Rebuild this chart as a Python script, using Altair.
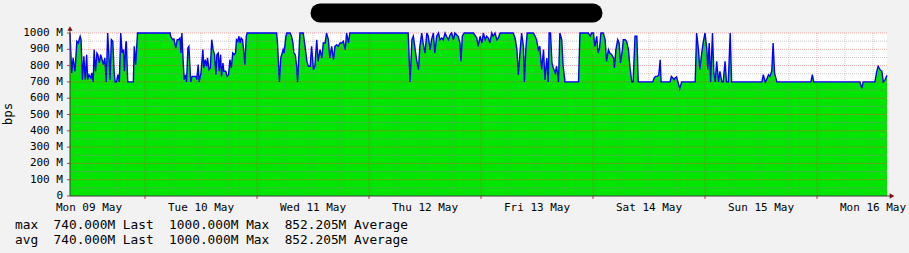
import altair as alt
import pandas as pd

# ---- data (hours since Mon 09 May 00:00, traffic in Mbit/s) ----
hours = [
    -4.07, -3.7, -3.4, -3.0, -2.6, -2.3, -1.9, -1.7, -1.4, -1.1,
    -0.8, -0.5, -0.3, 0.0, 0.4, 0.6, 0.9, 1.1, 1.4, 1.7,
    1.9, 2.2, 2.5, 2.8, 3.1, 3.4, 3.7, 4.0, 4.3, 4.5,
    4.8, 5.1, 5.4, 5.6, 5.9, 6.2, 6.5, 6.8, 7.1, 7.4,
    7.6, 7.9, 8.0, 8.3, 9.5, 9.7, 10.0, 10.4,
    17.4, 17.5, 17.9, 18.2, 18.6, 18.9, 19.2, 19.5, 19.7, 19.9,
    20.2, 20.4, 20.7, 20.9, 21.2, 21.4, 21.8, 22.1, 22.5, 22.9,
    23.1, 23.4, 23.6, 24.0, 24.4, 24.6, 24.9, 25.2, 25.4, 25.7,
    26.0, 26.3, 26.6, 26.9, 27.2, 27.4, 27.7, 27.9, 28.2, 28.4,
    28.7, 28.9, 29.3, 29.6, 29.9, 30.2, 30.5, 30.8, 31.1, 31.4,
    31.6, 31.9, 32.1, 32.4, 32.6, 32.9, 33.2, 33.4, 33.7, 33.9,
    40.2, 40.4, 40.8, 41.1, 41.6, 41.8, 42.2, 42.4, 43.1, 43.4,
    43.7, 43.9, 44.2, 44.5, 44.7, 45.2, 45.9, 46.3, 46.7, 47.0,
    47.4, 47.7, 48.1, 48.4, 48.8, 49.1, 49.5, 49.9, 50.2, 50.6,
    50.9, 51.3, 51.6, 52.0, 52.4, 52.7, 53.1, 53.4, 53.8, 54.2,
    54.5, 54.9, 55.2, 55.6, 55.9, 56.3,
    68.4, 68.8, 69.2, 69.5, 69.9, 70.2, 70.6, 70.9, 71.3, 71.6,
    72.0, 72.4, 72.7, 73.1, 73.4, 73.8, 74.1, 74.5, 74.9, 75.2,
    75.6, 75.9, 76.3, 76.6, 77.0, 77.4, 77.7, 78.1, 78.4, 79.1,
    79.5, 79.7, 80.0, 80.4, 82.4, 83.1, 83.4, 83.8, 84.2, 84.5,
    84.9, 85.2, 85.6, 85.9, 86.3, 86.6, 87.0, 87.4, 87.7, 88.1,
    90.9, 91.3, 91.7, 92.0, 92.4, 92.7, 93.1, 93.3, 93.6, 93.9,
    95.2, 95.6, 95.9, 96.3, 96.6, 97.0, 97.4, 97.7, 98.1, 98.4,
    98.6, 98.9, 99.2, 99.5, 99.9, 100.2, 100.6, 100.9, 101.3, 101.6,
    102.0, 104.9, 105.2, 107.0, 107.4, 107.7,
    108.1, 108.4, 108.8, 109.1, 109.4, 109.7, 110.2, 110.6, 110.9, 111.3,
    111.6, 112.0, 112.4, 112.6, 112.9, 113.3, 113.6, 113.9, 114.3, 114.5,
    114.9, 115.2, 115.6, 115.9, 116.3, 116.6, 117.0, 117.4, 117.7,
    120.8, 121.1, 121.4, 121.8, 122.1, 122.4, 122.6, 124.5, 124.8, 125.1,
    125.4, 125.6, 125.9, 126.2, 126.6, 127.0,
    129.9, 130.2, 130.6, 130.9, 131.3, 131.6, 132.0, 132.4, 132.6, 132.9,
    133.2, 133.6, 133.9, 134.2, 134.5, 134.9, 135.2, 135.6, 135.9, 136.3,
    136.6, 137.0, 137.4, 137.7,
    144.2, 144.5, 144.9, 145.2, 145.6, 145.9, 146.3, 146.6, 146.9, 147.4,
    154.7, 155.0, 155.3, 165.2, 165.6, 165.9, 168.4, 168.8, 169.1, 169.5,
    169.9, 170.2, 170.6, 171.0,
]

bps_m = [
    1000, 755, 847, 765, 949, 939, 980, 959, 714, 857,
    714, 867, 714, 744, 724, 755, 700, 898, 765, 877,
    867, 816, 867, 836, 806, 847, 700, 1000, 847, 714,
    959, 949, 755, 700, 700, 744, 700, 1000, 877, 898,
    765, 939, 949, 700, 700, 918, 806, 1000,
    1000, 980, 959, 963, 908, 959, 959, 969, 877, 1000,
    816, 714, 744, 700, 908, 918, 700, 734, 734, 734,
    714, 806, 700, 755, 898, 785, 836, 796, 847, 775,
    785, 959, 898, 867, 744, 867, 877, 765, 867, 734,
    816, 765, 765, 734, 744, 836, 785, 877, 867, 877,
    959, 949, 980, 939, 969, 959, 877, 806, 980, 1000,
    1000, 939, 700, 847, 898, 877, 980, 1000, 1000, 980,
    939, 877, 867, 796, 700, 1000, 1000, 918, 826, 796,
    796, 918, 775, 796, 959, 826, 898, 847, 939, 939,
    1000, 959, 847, 918, 836, 918, 928, 918, 939, 939,
    949, 898, 1000, 939, 1000, 1000,
    1000, 700, 959, 980, 898, 836, 775, 918, 1000, 939,
    877, 1000, 980, 898, 959, 1000, 877, 980, 1000, 959,
    969, 959, 1000, 980, 959, 990, 1000, 959, 1000, 980,
    939, 826, 980, 1000, 1000, 969, 918, 980, 939, 1000,
    959, 980, 969, 939, 1000, 980, 1000, 959, 969, 1000,
    1000, 969, 898, 744, 898, 1000, 918, 700, 898, 1000,
    1000, 980, 959, 898, 918, 775, 898, 714, 847, 700,
    1000, 1000, 816, 785, 755, 796, 700, 1000, 959, 796,
    700, 700, 1000, 1000, 980, 1000,
    1000, 918, 980, 877, 908, 1000, 1000, 959, 826, 898,
    877, 867, 847, 785, 898, 959, 939, 816, 898, 959,
    959, 949, 898, 796, 700, 700, 980, 980, 700,
    700, 724, 734, 734, 744, 836, 700, 700, 734, 724,
    714, 724, 730, 700, 660, 700,
    700, 1000, 898, 775, 877, 939, 1000, 898, 775, 939,
    700, 1000, 755, 700, 826, 700, 765, 700, 700, 826,
    700, 700, 1000, 700,
    700, 744, 700, 714, 744, 734, 765, 939, 755, 700,
    700, 744, 700, 700, 660, 700, 700, 765, 796, 775,
    765, 700, 714, 740,
]

day_labels = ["Mon 09 May", "Tue 10 May", "Wed 11 May", "Thu 12 May",
              "Fri 13 May", "Sat 14 May", "Sun 15 May", "Mon 16 May"]
label_hours = [0, 24, 48, 72, 96, 120, 144, 168]
noon_hours = [12, 36, 60, 84, 108, 132, 156]
six_hours = [0, 6, 18, 24, 30, 42, 48, 54, 66, 72, 78, 90, 96, 102,
             114, 120, 126, 138, 144, 150, 162, 168]
y_ticks = [0, 100, 200, 300, 400, 500, 600, 700, 800, 900, 1000]
y_tick_labels = ["0", "100 M", "200 M", "300 M", "400 M", "500 M",
                 "600 M", "700 M", "800 M", "900 M", "1000 M"]
y_minor = [50, 150, 250, 350, 450, 550, 650, 750, 850, 950]
y_major = [100, 200, 300, 400, 500, 600, 700, 800, 900, 1000]
y_title = "bps"

legend_names = ["max", "avg"]
legend_last = ["740.000", "740.000"]
legend_max = ["1000.000", "1000.000"]
legend_avg = ["852.205", "852.205"]

# ---- chart ----
W, H = 817, 163
FONT = "DejaVu Sans Mono"
NB = "\u00a0"

df = pd.DataFrame({"hour": hours, "bps": bps_m})
x_scale = alt.Scale(domain=[-4.07, 171.0], nice=False, zero=False)
y_scale = alt.Scale(domain=[0, 1000], nice=False, zero=True)

X = lambda: alt.X("hour:Q", scale=x_scale, axis=None)
Y = lambda: alt.Y("bps:Q", scale=y_scale, axis=None)

area = alt.Chart(df).mark_area(color="#00e600", opacity=1, interpolate="linear").encode(
    x=X(), y=Y())
line = alt.Chart(df).mark_line(color="#0000ff", strokeWidth=1.4, interpolate="linear").encode(
    x=X(), y=Y())

grid_minor_v = alt.Chart(pd.DataFrame({"hour": six_hours})).mark_rule(
    color="#8c8c8c", strokeWidth=1, strokeDash=[1, 1], opacity=0.45).encode(x=X())
grid_major_v = alt.Chart(pd.DataFrame({"hour": noon_hours})).mark_rule(
    color="#e03030", strokeWidth=1, strokeDash=[1, 1], opacity=0.4).encode(x=X())
grid_minor_h = alt.Chart(pd.DataFrame({"bps": y_minor})).mark_rule(
    color="#8c8c8c", strokeWidth=1, strokeDash=[1, 1], opacity=0.45).encode(y=Y())
grid_major_h = alt.Chart(pd.DataFrame({"bps": y_major})).mark_rule(
    color="#e03030", strokeWidth=1, strokeDash=[1, 1], opacity=0.4).encode(y=Y())

TICK_C = "#c04040"
noon_ticks = alt.Chart(pd.DataFrame({"hour": noon_hours})).mark_rule(
    color=TICK_C, strokeWidth=1).encode(x=X(), y=alt.value(H), y2=alt.value(H + 3))
y_tick_marks = alt.Chart(pd.DataFrame({"bps": y_ticks})).mark_rule(
    color=TICK_C, strokeWidth=1).encode(y=Y(), x=alt.value(-3), x2=alt.value(0))

y_labels = alt.Chart(pd.DataFrame({"bps": y_ticks, "lab": y_tick_labels})).mark_text(
    align="right", baseline="middle", font=FONT, fontSize=11, color="#000000").encode(
    y=Y(), x=alt.value(-7), text="lab:N")
x_labels = alt.Chart(pd.DataFrame({"hour": label_hours, "lab": day_labels})).mark_text(
    align="center", baseline="alphabetic", font=FONT, fontSize=11, color="#000000").encode(
    x=X(), y=alt.value(H + 14.7), text="lab:N")

one = pd.DataFrame({"d": [0]})
title_y = alt.Chart(one).mark_text(
    align="center", baseline="alphabetic", font=FONT, fontSize=12.5, angle=270,
    color="#000000").encode(x=alt.value(-58), y=alt.value(81), text=alt.value(y_title))

AXIS_C = "#3a3a3a"
ARROW_C = "#7f1010"
y_line = alt.Chart(one).mark_rule(color=AXIS_C, strokeWidth=1).encode(
    x=alt.value(0), y=alt.value(-3), y2=alt.value(H))
x_line = alt.Chart(one).mark_rule(color=AXIS_C, strokeWidth=1).encode(
    x=alt.value(0), x2=alt.value(W + 4), y=alt.value(H))
y_arrow = alt.Chart(one).mark_point(shape="triangle-up", filled=True, color=ARROW_C,
                                    size=28, opacity=1).encode(
    x=alt.value(0), y=alt.value(-4.5))
x_arrow = alt.Chart(one).mark_point(shape="triangle-right", filled=True, color=ARROW_C,
                                    size=28, opacity=1).encode(
    x=alt.value(W + 5), y=alt.value(H))

# redacted title
redact = alt.Chart(one).mark_rule(color="#000000", strokeWidth=19, strokeCap="round").encode(
    x=alt.value(250), x2=alt.value(523), y=alt.value(-20))

legend_layers = []
for i, name in enumerate(legend_names):
    s = f"{name}  {legend_last[i]}M Last  {legend_max[i]}M Max  {legend_avg[i]}M Average"
    s = s.replace(" ", NB)
    legend_layers.append(
        alt.Chart(one).mark_text(align="left", baseline="alphabetic", font=FONT,
                                 fontSize=12.8, color="#000000").encode(
            x=alt.value(-55), y=alt.value(196.4 + i * 14.8), text=alt.value(s))
    )

chart = alt.layer(
    area, grid_minor_v, grid_minor_h, grid_major_v, grid_major_h, line,
    noon_ticks, y_tick_marks, y_labels, x_labels, title_y,
    y_line, x_line, y_arrow, x_arrow, redact, *legend_layers
).properties(
    width=W, height=H,
    background="#f2f2f2",
    padding={"left": 70, "top": 33, "right": 22, "bottom": 57},
    autosize=alt.AutoSizeParams(type="none"),
).configure_view(fill="#ffffff", stroke=None)

chart.save("out.html", embed_options={"renderer": "svg", "actions": False})
